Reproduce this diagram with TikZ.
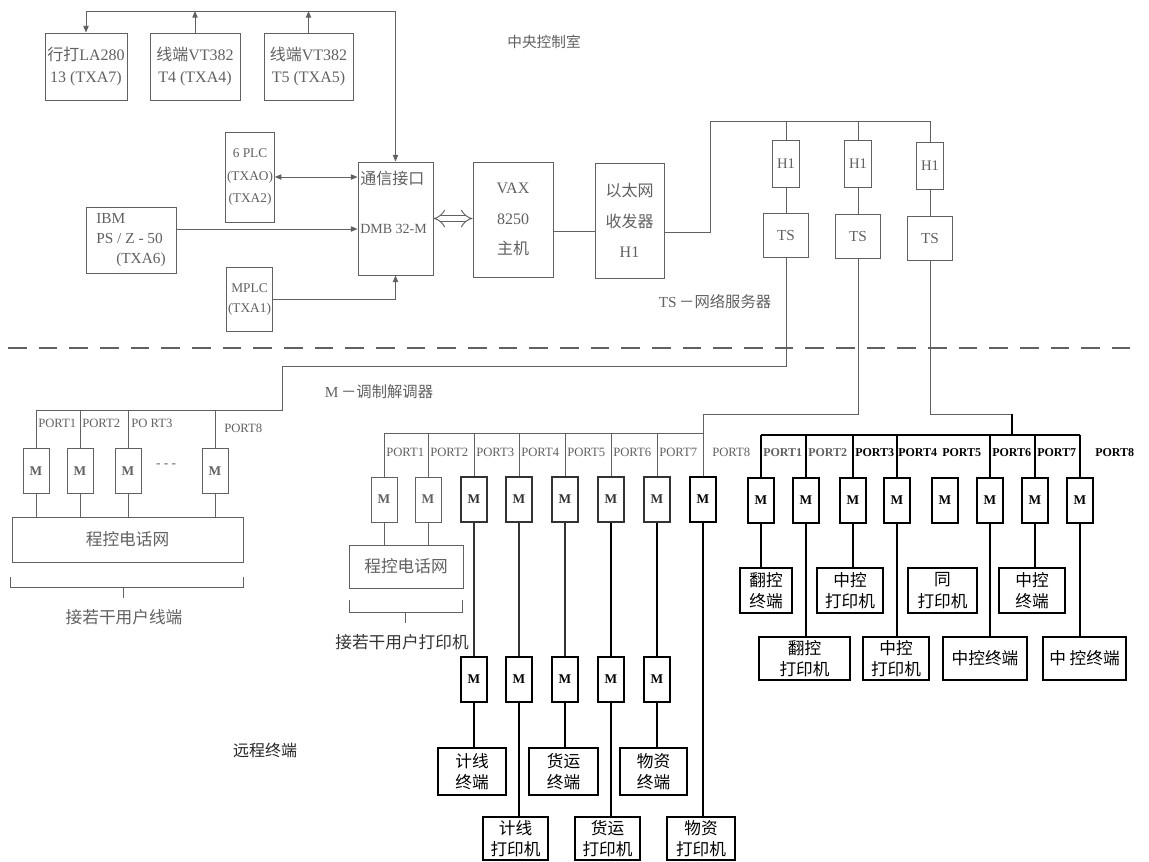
\documentclass[tikz,border=0pt]{standalone}
\usepackage{fontspec}
\setmainfont{Liberation Serif}
\newfontfamily\cjk{Noto Sans CJK SC}
\usetikzlibrary{arrows.meta}
\definecolor{fade}{gray}{0.38}
\definecolor{mid}{gray}{0.2}
\begin{document}
\begin{tikzpicture}[x=0.75pt,y=-0.75pt,
  >={Triangle[length=5pt,width=4pt]},
  box/.style={draw,rectangle,inner sep=1pt,align=center,line width=0.7pt},
  sz/.style 2 args={minimum width=#1*0.75pt,minimum height=#2*0.75pt},
  fd/.style={draw=fade,text=fade},
  bx/.style={draw=black,text=black,line width=1pt},
  md/.style={draw=mid,text=mid,line width=0.9pt},
  ln/.style={draw=fade,line width=0.7pt},
  lm/.style={draw=mid,line width=0.9pt},
  bk/.style={draw=black,line width=1pt},
  mbox/.style={box,sz={26}{45},font=\fontsize{10}{12}\selectfont\bfseries},
  port/.style={anchor=west,inner sep=0pt,font=\fontsize{9.5}{11}\selectfont},
  bport/.style={anchor=west,inner sep=0pt,font=\fontsize{9}{11}\selectfont\bfseries},
  lat/.style={font=\fontsize{12}{17}\selectfont},
  zh/.style={font=\cjk\fontsize{12.5}{16}\selectfont}
]
\fill[white] (0,0) rectangle (1149,861);
\useasboundingbox (0,0) rectangle (1149,861);

% ---------------- central control room ----------------
\coordinate (tb) at (0,11);
\node[box,fd,sz={82}{67},lat] (A) at (86,66.5) {{\cjk 行打}LA280\\13 (TXA7)};
\node[box,fd,sz={90}{67},lat] (B) at (195,66.5) {{\cjk 线端}VT382\\T4 (TXA4)};
\node[box,fd,sz={89}{67},lat] (C) at (308.5,66.5) {{\cjk 线端}VT382\\T5 (TXA5)};
\node[box,fd,sz={46}{90},font=\fontsize{10}{17}\selectfont] (plc) at (250,177) {6 PLC\\(TXAO)\\(TXA2)};
\node[box,fd,sz={90}{66},font=\fontsize{11.5}{15}\selectfont,align=left] (ibm) at (131,240) {IBM\\PS / Z - 50\\\hspace*{1.3em}(TXA6)};
\node[box,fd,sz={45}{64},font=\fontsize{10}{15}\selectfont] (mplc) at (249.5,299) {MPLC\\(TXA1)};
\node[box,fd,sz={75}{113}] (dmb) at (395.5,218.5) {};
\node[anchor=west,inner sep=0pt,text=fade,font=\cjk\fontsize{12}{13}\selectfont] (dmbt1) at (360,178) {通信接口};
\node[anchor=west,inner sep=0pt,text=fade,font=\fontsize{10.5}{13}\selectfont] (dmbt2) at (360,229) {DMB 32-M};
\node[box,fd,sz={80}{115},font=\fontsize{12}{23}\selectfont] (vax) at (513,219.5) {VAX\\8250\\{\cjk 主机}};
\node[box,fd,sz={69}{115},font=\fontsize{12}{23}\selectfont] (eth) at (629.5,220.5) {{\cjk 以太网}\\{\cjk 收发器}\\H1};

\node[box,fd,sz={27}{47},font=\fontsize{11}{12}\selectfont] (ha) at (786,164) {H1};
\node[box,fd,sz={27}{47},font=\fontsize{11}{12}\selectfont] (hb) at (858,164) {H1};
\node[box,fd,sz={27}{47},font=\fontsize{11}{12}\selectfont] (hc) at (930,166) {H1};
\node[box,fd,sz={45}{44},font=\fontsize{11.5}{12}\selectfont] (tsa) at (786,235) {TS};
\node[box,fd,sz={45}{44},font=\fontsize{11.5}{12}\selectfont] (tsb) at (858,236) {TS};
\node[box,fd,sz={45}{44},font=\fontsize{11.5}{12}\selectfont] (tsc) at (930,238) {TS};

\draw[ln] (A.north |- tb) -- (dmb.north |- tb);
\draw[ln,->] (A.north |- tb) -- (A.north);
\draw[ln,->] (B.north) -- (B.north |- tb);
\draw[ln,->] (C.north) -- (C.north |- tb);
\draw[ln,->] (dmb.north |- tb) -- (dmb.north);
\draw[ln,<->] (plc.east) -- (plc.east -| dmb.west);
\draw[ln,->] (ibm.east |- dmbt2) -- (dmbt2 -| dmb.west);
\draw[ln,->] (mplc.east) -| (dmb.south);
\draw[draw=fade,line width=0.7pt,double=white,double distance=4pt,{Implies[length=6pt]}-{Implies[length=6pt]}] (dmb.east) -- (dmb.east -| vax.west);
\draw[ln] ([yshift=-9pt]vax.east) -- ([yshift=-9pt]vax.east -| eth.west);
\coordinate (hbus) at (710,121);
\draw[ln] ([yshift=-9pt]eth.east) -| (hbus) -- (hc.north |- hbus);
\draw[ln] (ha.north |- hbus) -- (ha.north);
\draw[ln] (hb.north |- hbus) -- (hb.north);
\draw[ln] (hc.north |- hbus) -- (hc.north);
\draw[ln] (ha.south) -- (tsa.north);
\draw[ln] (hb.south) -- (tsb.north);
\draw[ln] (hc.south) -- (tsc.north);

\node[text=fade,font=\cjk\fontsize{11}{13}\selectfont] (lbl1) at (544,42) {中央控制室};
\node[text=fade,font=\fontsize{11.5}{13}\selectfont] (lbl2) at (715,302) {TS\,{\cjk －网络服务器}};

% dashed boundary
\draw[draw=fade,line width=0.8pt,dash pattern=on 14pt off 9pt] (8,348) -- (1130,348);

\node[text=fade,font=\fontsize{11.5}{13}\selectfont] (lbl3) at (379,392) {M\,{\cjk －调制解调器}};
\node[text=black!85,font=\cjk\fontsize{12}{14}\selectfont] (lbl4) at (265,750) {远程终端};

% ---------------- group 1 ----------------
\coordinate (g1t) at (282,366);
\coordinate (g1b) at (36,410);
\draw[ln] (tsa.south) |- (g1t) |- (g1b);
\node[mbox,fd] (m1a) at (36,471) {M};
\node[mbox,fd] (m1b) at (80,471) {M};
\node[mbox,fd] (m1c) at (128,471) {M};
\node[mbox,fd] (m1d) at (215,471) {M};
\foreach \m in {m1a,m1b,m1c,m1d}{\draw[ln] (\m.north |- g1b) -- (\m.north);}
\node[port,text=fade] (p1a) at (38,423) {PORT1};
\node[port,text=fade] (p1b) at (82,423) {PORT2};
\node[port,text=fade] (p1c) at (131,423) {PO RT3};
\node[port,text=fade] (p1d) at (224,428) {PORT8};
\node[text=fade,font=\fontsize{10}{12}\selectfont] (dots) at (166,466) {- - -};
\node[box,fd,zh,sz={231}{45}] (ph1) at (127.5,539.5) {程控电话网};
\foreach \m in {m1a,m1b,m1c,m1d}{\draw[ln] (\m.south) -- (\m.south |- ph1.north);}
\draw[ln] (10,577) -- (10,587) -- (243,587) -- (243,577);
\draw[ln] (123,587) -- (123,598);
\node[zh,text=fade] (u1) at (124,617) {接若干用户线端};

% ---------------- group 2 ----------------
\coordinate (g2t) at (703,414);
\coordinate (g2b) at (384,433);
\draw[ln] (tsb.south) |- (g2t);
\node[mbox,fd] (m2a) at (384,499.5) {M};
\node[mbox,fd] (m2b) at (428,499.5) {M};
\node[mbox,md] (m2c) at (474,499.5) {M};
\node[mbox,md] (m2d) at (519,499.5) {M};
\node[mbox,md] (m2e) at (565,499.5) {M};
\node[mbox,md] (m2f) at (611,499.5) {M};
\node[mbox,md] (m2g) at (657,499.5) {M};
\node[mbox,bx] (m2h) at (703,499.5) {M};
\draw[ln] (g2b) -- (g2t |- g2b);
\draw[ln] (g2t) -- (m2h.north);
\foreach \m in {m2a,m2b,m2c,m2d,m2e,m2f,m2g}{\draw[ln] (\m.north |- g2b) -- (\m.north);}
\node[port,text=fade] (p2a) at (386,452) {PORT1};
\node[port,text=fade] (p2b) at (430,452) {PORT2};
\node[port,text=fade] (p2c) at (476,452) {PORT3};
\node[port,text=fade] (p2d) at (521,452) {PORT4};
\node[port,text=fade] (p2e) at (567,452) {PORT5};
\node[port,text=fade] (p2f) at (613,452) {PORT6};
\node[port,text=fade] (p2g) at (659,452) {PORT7};
\node[port,text=fade] (p2h) at (712,452) {PORT8};
\node[box,fd,zh,sz={114}{43}] (ph2) at (406,566.5) {程控电话网};
\draw[ln] (m2a.south) -- (m2a.south |- ph2.north);
\draw[ln] (m2b.south) -- (m2b.south |- ph2.north);
\draw[ln] (349,600) -- (349,612) -- (462,612) -- (462,600);
\draw[ln] (405,612) -- (405,623);
\node[zh,text=mid] (u2) at (402,642) {接若干用户打印机};

\node[mbox,bx] (n2c) at (474,679.5) {M};
\node[mbox,bx] (n2d) at (519,679.5) {M};
\node[mbox,bx] (n2e) at (565,679.5) {M};
\node[mbox,bx] (n2f) at (611,679.5) {M};
\node[mbox,bx] (n2g) at (657,679.5) {M};
\draw[lm] (m2c.south) -- (n2c.north);
\draw[lm] (m2d.south) -- (n2d.north);
\draw[lm] (m2e.south) -- (n2e.north);
\draw[bk] (m2f.south) -- (n2f.north);
\draw[bk] (m2g.south) -- (n2g.north);

\node[box,bx,zh,sz={68}{47}] (tjx) at (472,771.5) {计线\\终端};
\node[box,bx,zh,sz={65}{43}] (pjx) at (515.5,838.5) {计线\\打印机};
\node[box,bx,zh,sz={69}{47}] (thy) at (563.5,771.5) {货运\\终端};
\node[box,bx,zh,sz={65}{43}] (phy) at (607.5,838.5) {货运\\打印机};
\node[box,bx,zh,sz={67}{47}] (twz) at (653.5,771.5) {物资\\终端};
\node[box,bx,zh,sz={68}{43}] (pwz) at (701,838.5) {物资\\打印机};
\draw[bk] (n2c.south) -- (n2c.south |- tjx.north);
\draw[bk] (n2d.south) -- (n2d.south |- pjx.north);
\draw[bk] (n2e.south) -- (n2e.south |- thy.north);
\draw[bk] (n2f.south) -- (n2f.south |- phy.north);
\draw[bk] (n2g.south) -- (n2g.south |- twz.north);
\draw[bk] (m2h.south) -- (m2h.south |- pwz.north);

% ---------------- group 3 ----------------
\coordinate (g3t) at (1012,414);
\coordinate (g3b) at (761,435);
\node[mbox,bx] (m3a) at (761,500.5) {M};
\node[mbox,bx] (m3b) at (806,500.5) {M};
\node[mbox,bx] (m3c) at (853,500.5) {M};
\node[mbox,bx] (m3d) at (897,500.5) {M};
\node[mbox,bx] (m3e) at (945,500.5) {M};
\node[mbox,bx] (m3f) at (990,500.5) {M};
\node[mbox,bx] (m3g) at (1035,500.5) {M};
\node[mbox,bx] (m3h) at (1080,500.5) {M};
\draw[ln] (tsc.south) |- (g3t);
\draw[bk] (g3t) -- (g3t |- g3b);
\draw[bk] (g3b) -- (g3b -| m3h.north);
\foreach \m in {m3a,m3b,m3c,m3d,m3f,m3g,m3h}{\draw[bk] (\m.north |- g3b) -- (\m.north);}
\node[bport,text=fade] (p3a) at (763,453) {PORT1};
\node[bport,text=fade] (p3b) at (808,453) {PORT2};
\node[bport] (p3c) at (855,453) {PORT3};
\node[bport] (p3d) at (898,453) {PORT4};
\node[bport] (p3e) at (942,453) {PORT5};
\node[bport] (p3f) at (992,453) {PORT6};
\node[bport] (p3g) at (1037,453) {PORT7};
\node[bport] (p3h) at (1095,453) {PORT8};

\node[box,bx,zh,sz={52}{45}] (fkt) at (766,590.5) {翻控\\终端};
\node[box,bx,zh,sz={91}{43}] (fkp) at (804.5,658.5) {翻控\\打印机};
\node[box,bx,zh,sz={66}{45}] (zkp1) at (850,590.5) {中控\\打印机};
\node[box,bx,zh,sz={66}{43}] (zkp2) at (896,658.5) {中控\\打印机};
\node[box,bx,zh,sz={69}{45}] (tpr) at (942.5,590.5) {同\\打印机};
\node[box,bx,zh,sz={84}{43}] (zkt1) at (985,658.5) {中控终端};
\node[box,bx,zh,sz={66}{45}] (zkt2) at (1032,590.5) {中控\\终端};
\node[box,bx,zh,sz={83}{43}] (zkt3) at (1084.5,658.5) {中\ 控终端};
\draw[bk] (m3a.south) -- (m3a.south |- fkt.north);
\draw[bk] (m3b.south) -- (m3b.south |- fkp.north);
\draw[bk] (m3c.south) -- (m3c.south |- zkp1.north);
\draw[bk] (m3d.south) -- (m3d.south |- zkp2.north);
\draw[bk] (m3f.south) -- (m3f.south |- zkt1.north);
\draw[bk] (m3g.south) -- (m3g.south |- zkt2.north);
\draw[bk] (m3h.south) -- (m3h.south |- zkt3.north);
\end{tikzpicture}
\end{document}
